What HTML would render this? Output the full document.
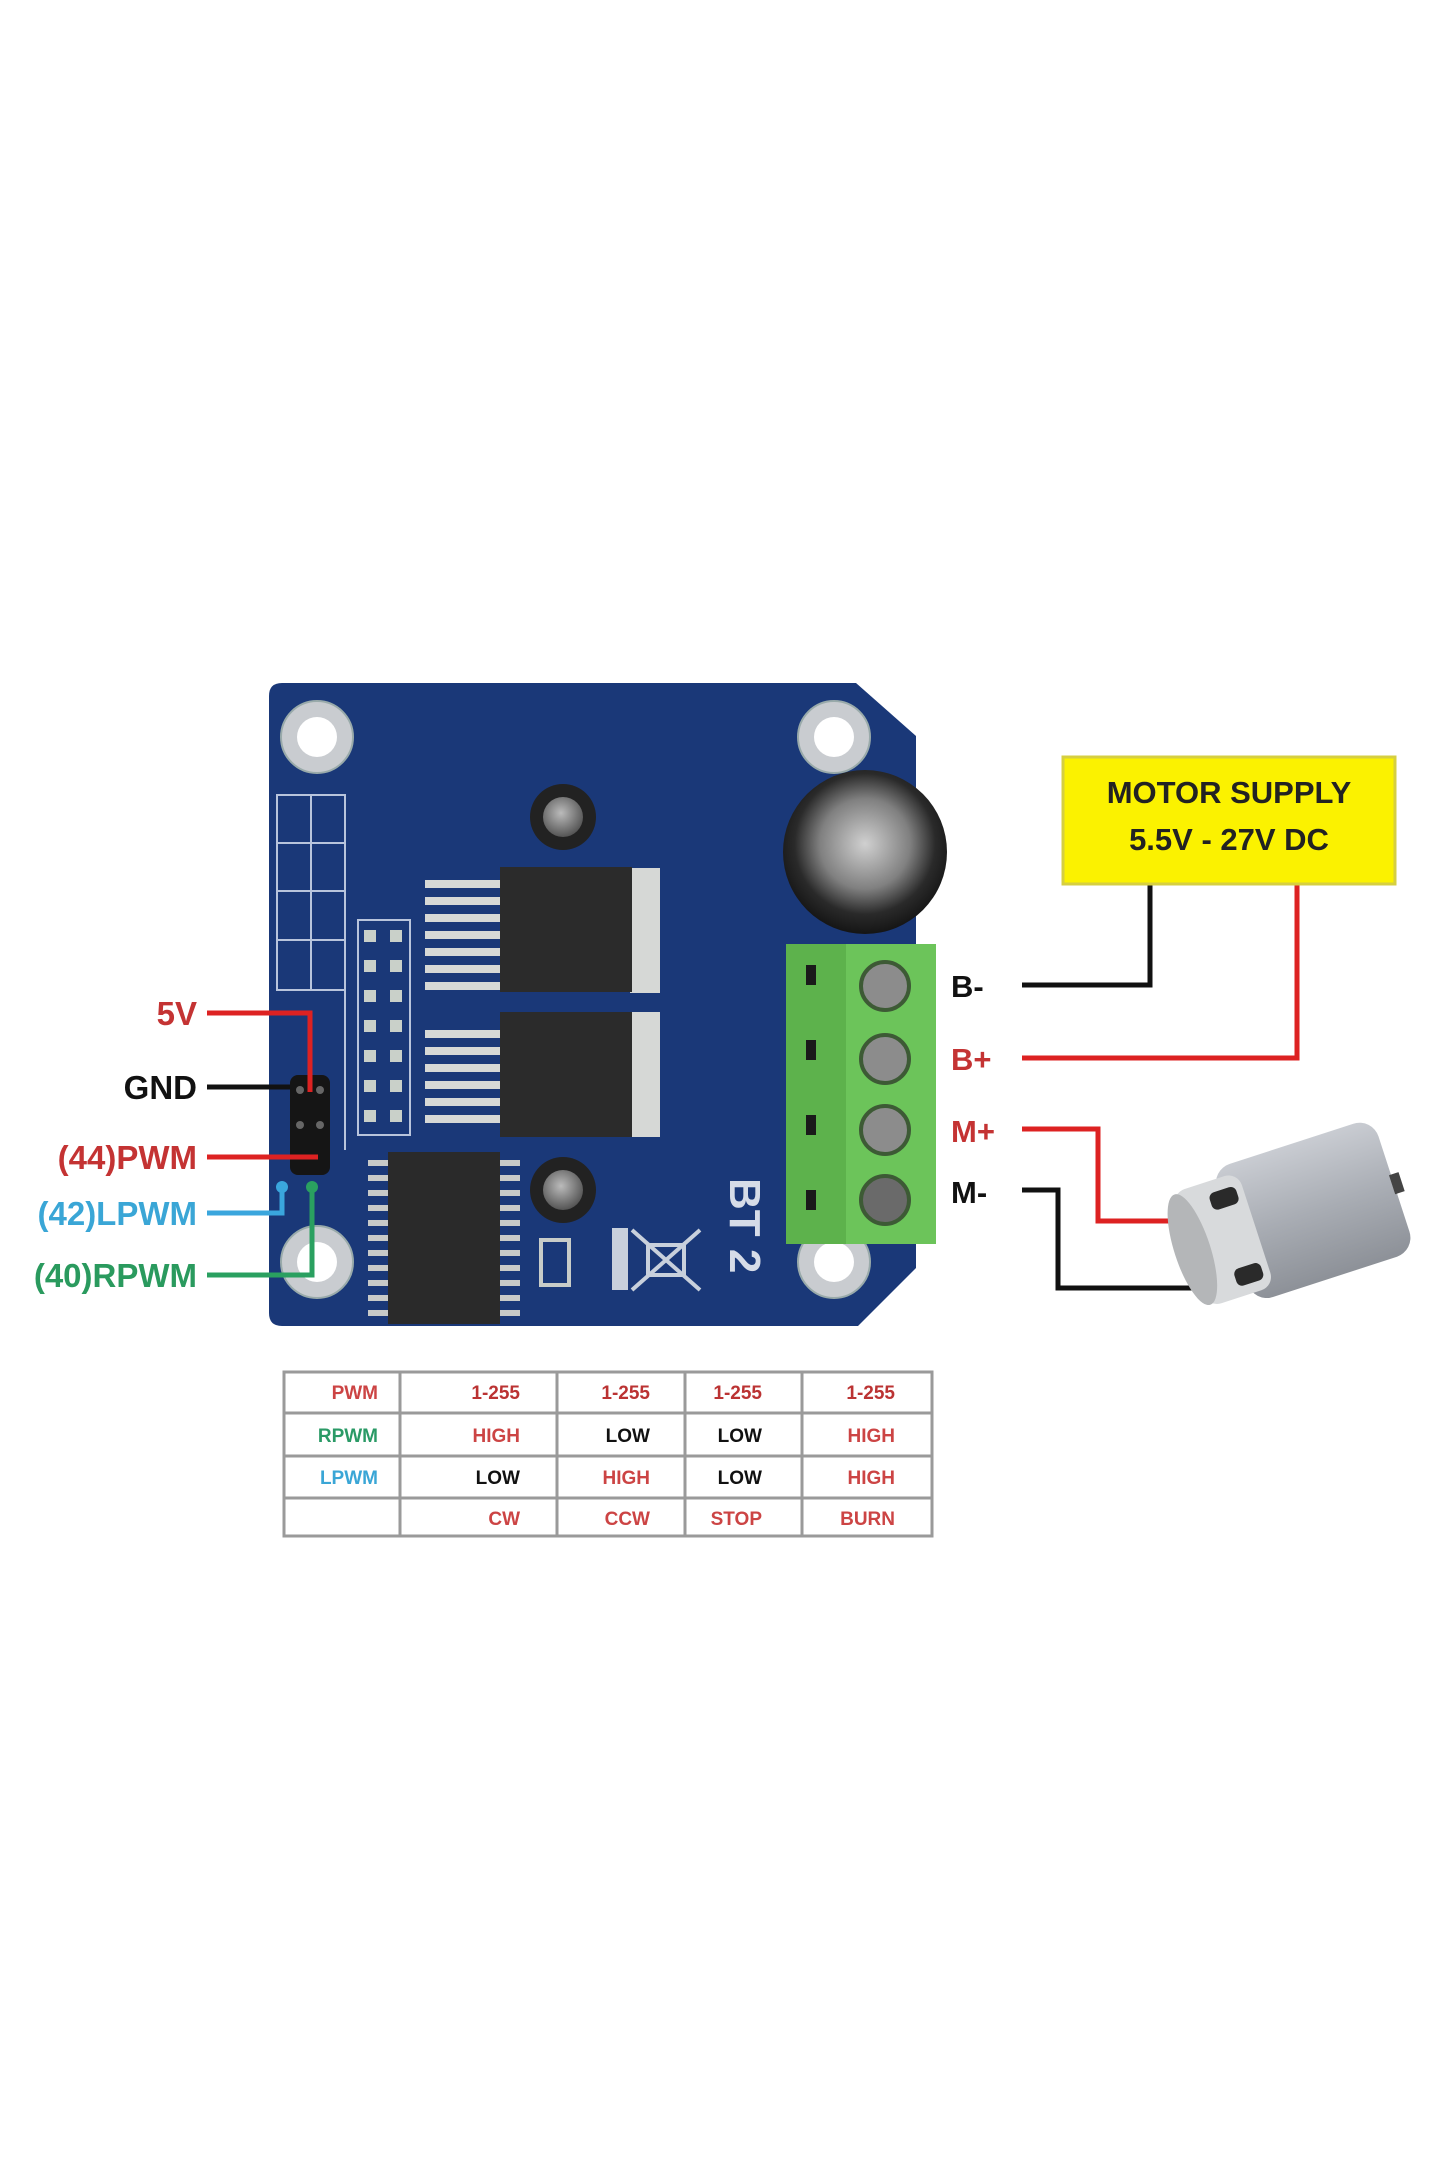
<!DOCTYPE html>
<html><head><meta charset="utf-8"><style>
html,body{margin:0;padding:0;background:#fff;width:1440px;height:2160px;overflow:hidden}
svg{display:block}
text{font-family:"Liberation Sans",sans-serif;font-weight:bold}
</style></head><body>
<svg width="1440" height="2160" viewBox="0 0 1440 2160" xmlns="http://www.w3.org/2000/svg">
<defs>
<radialGradient id="cap" cx="50%" cy="45%" r="55%"><stop offset="0" stop-color="#d0d0d0"/><stop offset="0.5" stop-color="#808080"/><stop offset="0.78" stop-color="#2a2a2a"/><stop offset="1" stop-color="#151515"/></radialGradient>
<linearGradient id="mot" x1="0" y1="0" x2="0" y2="1"><stop offset="0" stop-color="#c9ccd2"/><stop offset="0.5" stop-color="#a9adb4"/><stop offset="1" stop-color="#8d9198"/></linearGradient>
<radialGradient id="scr" cx="45%" cy="40%" r="60%"><stop offset="0" stop-color="#bbb"/><stop offset="1" stop-color="#555"/></radialGradient>
</defs>
<rect width="1440" height="2160" fill="#fff"/>
<path d="M282,683 L856,683 L916,736 L916,1268 L858,1326 L282,1326 Q269,1326 269,1313 L269,696 Q269,683 282,683 Z" fill="#1a3878"/>
<g fill="#c9ccd0" stroke="#9aa" stroke-width="2">
<circle cx="317" cy="737" r="36"/><circle cx="834" cy="737" r="36"/><circle cx="317" cy="1262" r="36"/><circle cx="834" cy="1262" r="36"/></g>
<g fill="#fff"><circle cx="317" cy="737" r="20"/><circle cx="834" cy="737" r="20"/><circle cx="317" cy="1262" r="20"/><circle cx="834" cy="1262" r="20"/></g>
<g fill="none" stroke="#b8c4dc" stroke-width="2">
<rect x="277" y="795" width="68" height="195"/><line x1="311" y1="795" x2="311" y2="990"/>
<line x1="277" y1="843" x2="345" y2="843"/><line x1="277" y1="891" x2="345" y2="891"/><line x1="277" y1="940" x2="345" y2="940"/>
<rect x="358" y="920" width="52" height="215"/>
<line x1="345" y1="990" x2="345" y2="1150"/>
</g>
<g fill="#c9d0c9">
<rect x="364" y="930" width="12" height="12"/><rect x="364" y="960" width="12" height="12"/><rect x="364" y="990" width="12" height="12"/><rect x="364" y="1020" width="12" height="12"/><rect x="364" y="1050" width="12" height="12"/><rect x="364" y="1080" width="12" height="12"/><rect x="364" y="1110" width="12" height="12"/>
<rect x="390" y="930" width="12" height="12"/><rect x="390" y="960" width="12" height="12"/><rect x="390" y="990" width="12" height="12"/><rect x="390" y="1020" width="12" height="12"/><rect x="390" y="1050" width="12" height="12"/><rect x="390" y="1080" width="12" height="12"/><rect x="390" y="1110" width="12" height="12"/>
</g>
<g fill="#d6d8d6">
<rect x="425" y="880" width="75" height="8"/><rect x="425" y="897" width="75" height="8"/><rect x="425" y="914" width="75" height="8"/><rect x="425" y="931" width="75" height="8"/><rect x="425" y="948" width="75" height="8"/><rect x="425" y="965" width="75" height="8"/><rect x="425" y="982" width="75" height="8"/>
<rect x="425" y="1030" width="75" height="8"/><rect x="425" y="1047" width="75" height="8"/><rect x="425" y="1064" width="75" height="8"/><rect x="425" y="1081" width="75" height="8"/><rect x="425" y="1098" width="75" height="8"/><rect x="425" y="1115" width="75" height="8"/>
<rect x="630" y="868" width="30" height="125"/><rect x="630" y="1012" width="30" height="125"/>
</g>
<rect x="500" y="867" width="132" height="125" fill="#2b2b2b"/>
<rect x="500" y="1012" width="132" height="125" fill="#2b2b2b"/>
<circle cx="563" cy="817" r="33" fill="#222"/><circle cx="563" cy="817" r="20" fill="url(#scr)"/>
<circle cx="563" cy="1190" r="33" fill="#222"/><circle cx="563" cy="1190" r="20" fill="url(#scr)"/>
<g fill="#c8cac8">
<rect x="368" y="1160" width="20" height="6"/><rect x="368" y="1175" width="20" height="6"/><rect x="368" y="1190" width="20" height="6"/><rect x="368" y="1205" width="20" height="6"/><rect x="368" y="1220" width="20" height="6"/><rect x="368" y="1235" width="20" height="6"/><rect x="368" y="1250" width="20" height="6"/><rect x="368" y="1265" width="20" height="6"/><rect x="368" y="1280" width="20" height="6"/><rect x="368" y="1295" width="20" height="6"/><rect x="368" y="1310" width="20" height="6"/>
<rect x="500" y="1160" width="20" height="6"/><rect x="500" y="1175" width="20" height="6"/><rect x="500" y="1190" width="20" height="6"/><rect x="500" y="1205" width="20" height="6"/><rect x="500" y="1220" width="20" height="6"/><rect x="500" y="1235" width="20" height="6"/><rect x="500" y="1250" width="20" height="6"/><rect x="500" y="1265" width="20" height="6"/><rect x="500" y="1280" width="20" height="6"/><rect x="500" y="1295" width="20" height="6"/><rect x="500" y="1310" width="20" height="6"/>
</g>
<rect x="388" y="1152" width="112" height="172" fill="#2a2a2a"/>
<rect x="541" y="1240" width="28" height="45" fill="none" stroke="#c8ccc8" stroke-width="4"/>
<rect x="612" y="1228" width="16" height="62" fill="#c8d0dc"/>
<path d="M632,1230 L700,1290 M700,1230 L632,1290" stroke="#c8d0dc" stroke-width="4"/>
<rect x="648" y="1245" width="36" height="30" fill="none" stroke="#c8d0dc" stroke-width="4"/>
<text x="0" y="0" transform="translate(730,1178) rotate(90)" font-size="44" fill="#d6dce8">BT 2</text>
<circle cx="865" cy="852" r="82" fill="url(#cap)"/>
<rect x="290" y="1075" width="40" height="100" rx="8" fill="#151515"/>
<g fill="#666"><circle cx="300" cy="1090" r="4"/><circle cx="320" cy="1090" r="4"/><circle cx="300" cy="1125" r="4"/><circle cx="320" cy="1125" r="4"/></g>
<rect x="786" y="944" width="150" height="300" fill="#6cc45a"/>
<rect x="786" y="944" width="60" height="300" fill="#5db24c"/>
<g fill="#1a1a1a"><rect x="806" y="965" width="10" height="20"/><rect x="806" y="1040" width="10" height="20"/><rect x="806" y="1115" width="10" height="20"/><rect x="806" y="1190" width="10" height="20"/></g>
<g fill="#8c8c8c" stroke="#3d5a35" stroke-width="4"><circle cx="885" cy="986" r="24"/><circle cx="885" cy="1059" r="24"/><circle cx="885" cy="1130" r="24"/><circle cx="885" cy="1200" r="24" fill="#6a6a6a"/></g>
<g fill="none" stroke-width="5">
<path d="M207,1013 L310,1013 L310,1092" stroke="#d22"/>
<path d="M207,1087 L290,1087" stroke="#111"/>
<path d="M207,1157 L318,1157" stroke="#d22"/>
<path d="M207,1213 L282,1213 L282,1185" stroke="#3aa6dd"/>
<path d="M207,1275 L312,1275 L312,1185" stroke="#2aa060"/>
</g>
<circle cx="282" cy="1187" r="6" fill="#3aa6dd"/><circle cx="312" cy="1187" r="6" fill="#2aa060"/>
<text x="197" y="1025" font-size="33" fill="#c43333" text-anchor="end">5V</text>
<text x="197" y="1099" font-size="33" fill="#111" text-anchor="end">GND</text>
<text x="197" y="1169" font-size="33" fill="#c43333" text-anchor="end">(44)PWM</text>
<text x="197" y="1225" font-size="33" fill="#3aa6d6" text-anchor="end">(42)LPWM</text>
<text x="197" y="1287" font-size="33" fill="#2a9a5e" text-anchor="end">(40)RPWM</text>
<text x="951" y="997" font-size="31" fill="#111">B-</text>
<text x="951" y="1070" font-size="31" fill="#c43333">B+</text>
<text x="951" y="1142" font-size="31" fill="#c43333">M+</text>
<text x="951" y="1203" font-size="31" fill="#111">M-</text>
<g fill="none" stroke-width="5">
<path d="M1022,985 L1150,985 L1150,884" stroke="#111"/>
<path d="M1022,1058 L1297,1058 L1297,884" stroke="#d22"/>
<path d="M1022,1129 L1098,1129 L1098,1221 L1178,1221" stroke="#d22"/>
<path d="M1022,1190 L1058,1190 L1058,1288 L1210,1288" stroke="#111"/>
</g>
<rect x="1063" y="757" width="332" height="127" fill="#fbf200" stroke="#d6cf40" stroke-width="3"/>
<text x="1229" y="803" font-size="31" fill="#222" text-anchor="middle">MOTOR SUPPLY</text>
<text x="1229" y="850" font-size="31" fill="#222" text-anchor="middle">5.5V - 27V DC</text>
<g transform="rotate(-18 1290 1220)">
<rect x="1230" y="1148" width="170" height="140" rx="20" fill="url(#mot)"/>
<rect x="1185" y="1158" width="70" height="120" rx="14" fill="#d8dadc"/>
<ellipse cx="1188" cy="1218" rx="18" ry="58" fill="#b4b6b8"/>
<rect x="1220" y="1170" width="28" height="18" rx="6" fill="#2a2a2a"/>
<rect x="1220" y="1250" width="28" height="18" rx="6" fill="#2a2a2a"/>
<rect x="1398" y="1208" width="10" height="20" fill="#444"/>
</g>
<g fill="none" stroke="#9a9a9a" stroke-width="3">
<rect x="284" y="1372" width="648" height="164"/>
<line x1="400" y1="1372" x2="400" y2="1536"/><line x1="557" y1="1372" x2="557" y2="1536"/>
<line x1="685" y1="1372" x2="685" y2="1536"/><line x1="802" y1="1372" x2="802" y2="1536"/>
<line x1="284" y1="1413" x2="932" y2="1413"/><line x1="284" y1="1456" x2="932" y2="1456"/><line x1="284" y1="1498" x2="932" y2="1498"/>
</g>
<g font-size="19">
<text x="378" y="1399" fill="#c44" text-anchor="end">PWM</text>
<text x="378" y="1442" fill="#2a9a66" text-anchor="end">RPWM</text>
<text x="378" y="1484" fill="#3aa6d6" text-anchor="end">LPWM</text>
<text x="520" y="1399" fill="#b33" text-anchor="end">1-255</text>
<text x="650" y="1399" fill="#b33" text-anchor="end">1-255</text>
<text x="762" y="1399" fill="#b33" text-anchor="end">1-255</text>
<text x="895" y="1399" fill="#b33" text-anchor="end">1-255</text>
<text x="520" y="1442" fill="#c44" text-anchor="end">HIGH</text>
<text x="650" y="1442" fill="#111" text-anchor="end">LOW</text>
<text x="762" y="1442" fill="#111" text-anchor="end">LOW</text>
<text x="895" y="1442" fill="#c44" text-anchor="end">HIGH</text>
<text x="520" y="1484" fill="#111" text-anchor="end">LOW</text>
<text x="650" y="1484" fill="#c44" text-anchor="end">HIGH</text>
<text x="762" y="1484" fill="#111" text-anchor="end">LOW</text>
<text x="895" y="1484" fill="#c44" text-anchor="end">HIGH</text>
<text x="520" y="1525" fill="#c44" text-anchor="end">CW</text>
<text x="650" y="1525" fill="#c44" text-anchor="end">CCW</text>
<text x="762" y="1525" fill="#c44" text-anchor="end">STOP</text>
<text x="895" y="1525" fill="#c44" text-anchor="end">BURN</text>
</g>
</svg>
</body></html>
